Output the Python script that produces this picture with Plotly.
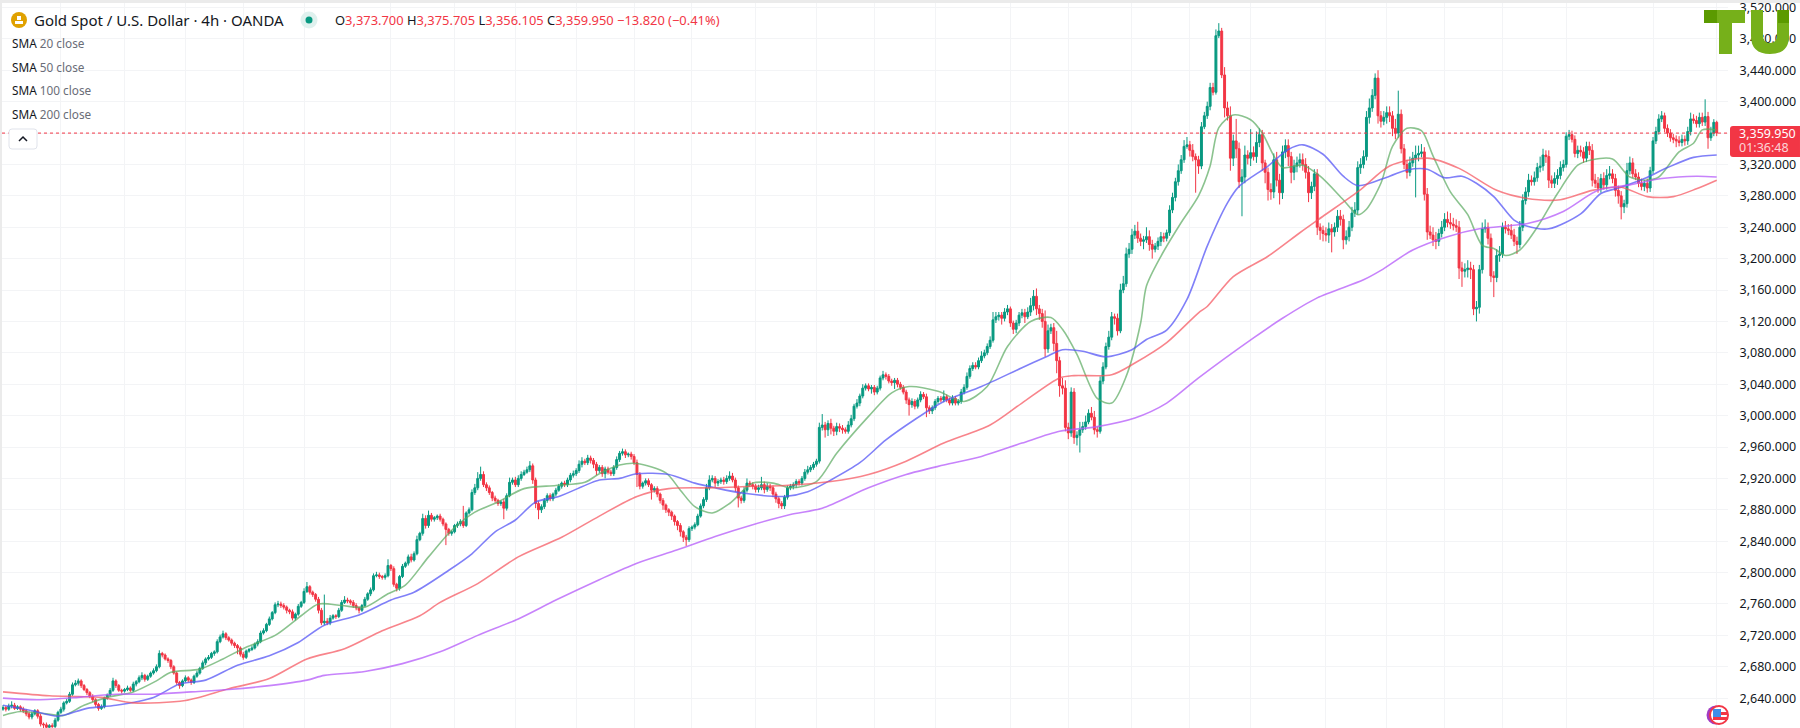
import plotly.graph_objects as go

# closes per group of bars left to right
closes = [
    2628,2626,2630,2631,2627,2629,2626,2624,2620,2616,
    2620,2624,2617,2607,2606,2603,2605,2604,2612,2622,
    2626,2634,2636,2645,2657,2659,2662,2656,2651,2647,
    2642,2638,2632,2627,2629,2640,2644,2650,2662,2656,
    2650,2649,2651,2653,2650,2658,2661,2666,2669,2664,
    2668,2672,2675,2680,2697,2695,2690,2688,2680,2672,
    2660,2656,2662,2666,2663,2660,2668,2672,2678,2685,
    2690,2692,2697,2699,2712,2718,2722,2717,2714,2710,
    2707,2704,2696,2692,2700,2702,2704,2709,2712,2723,
    2726,2734,2741,2749,2759,2760,2758,2756,2752,2750,
    2742,2747,2757,2762,2776,2782,2775,2772,2766,2752,
    2736,2738,2736,2742,2745,2744,2752,2762,2765,2764,
    2762,2758,2755,2752,2758,2766,2773,2778,2796,2797,
    2795,2794,2796,2809,2805,2785,2780,2795,2808,2812,
    2820,2816,2824,2842,2850,2869,2860,2873,2868,2870,
    2872,2868,2862,2855,2850,2852,2860,2862,2865,2860,
    2876,2880,2902,2908,2920,2925,2912,2908,2902,2895,
    2892,2888,2890,2882,2898,2915,2918,2912,2920,2925,
    2928,2931,2936,2918,2888,2880,2884,2892,2898,2894,
    2900,2905,2910,2914,2912,2918,2924,2926,2930,2938,
    2942,2940,2946,2943,2938,2930,2934,2926,2932,2928,
    2926,2934,2944,2952,2954,2950,2951,2948,2940,2925,
    2910,2914,2917,2912,2905,2907,2900,2892,2886,2880,
    2877,2872,2865,2860,2852,2845,2842,2856,2858,2861,
    2872,2885,2893,2908,2918,2920,2914,2916,2918,2916,
    2920,2923,2918,2908,2895,2892,2905,2914,2912,2910,
    2906,2908,2912,2906,2910,2908,2900,2894,2888,2885,
    2896,2908,2910,2912,2916,2914,2920,2928,2931,2934,
    2938,2942,2985,2988,2982,2990,2984,2980,2986,2984,
    2982,2980,2988,2996,3012,3016,3025,3035,3038,3034,
    3036,3030,3035,3048,3052,3050,3044,3042,3045,3040,
    3036,3030,3020,3014,3018,3012,3020,3027,3024,3010,
    3006,3010,3018,3022,3020,3024,3020,3016,3022,3016,
    3018,3030,3036,3050,3060,3064,3062,3070,3076,3080,
    3088,3096,3122,3126,3128,3124,3132,3136,3118,3110,
    3118,3128,3131,3126,3132,3140,3152,3136,3130,3120,
    3085,3108,3112,3092,3070,3038,3035,2985,2978,3030,
    2972,2975,2982,2986,2992,3003,2998,2982,2980,3044,
    3062,3088,3100,3126,3124,3108,3160,3168,3206,3212,
    3230,3235,3226,3222,3224,3228,3218,3212,3216,3222,
    3228,3226,3233,3262,3278,3298,3312,3326,3343,3345,
    3338,3330,3326,3318,3368,3382,3394,3418,3412,3484,
    3490,3434,3392,3382,3328,3350,3340,3298,3304,3332,
    3328,3335,3330,3348,3358,3322,3310,3288,3285,3326,
    3300,3284,3336,3344,3330,3310,3318,3322,3326,3320,
    3310,3284,3292,3308,3240,3236,3232,3230,3238,3234,
    3240,3254,3250,3224,3228,3240,3258,3262,3316,3320,
    3330,3380,3392,3408,3430,3382,3375,3380,3386,3382,
    3366,3360,3384,3340,3320,3310,3322,3328,3332,3334,
    3336,3282,3234,3230,3224,3222,3232,3240,3250,3246,
    3244,3242,3240,3188,3184,3186,3188,3186,3136,3138,
    3186,3238,3240,3226,3178,3176,3204,3206,3240,3238,
    3236,3230,3222,3218,3240,3274,3285,3300,3298,3303,
    3316,3318,3332,3330,3300,3296,3302,3306,3316,3320,
    3356,3358,3352,3334,3338,3336,3328,3343,3338,3300,
    3296,3290,3302,3294,3306,3308,3302,3287,3280,3266,
    3270,3312,3322,3308,3304,3296,3292,3296,3290,3312,
    3350,3362,3378,3382,3366,3360,3354,3352,3350,3348,
    3352,3350,3362,3378,3376,3372,3380,3374,3381,3354,
    3360,3373.7,3359.95,
]
upper_wick = [
    3,2,3,5,3,2,2,3,2,3, 3,2,2,3,2,3,2,3,3,2, 3,2,3,3,3,4,3,2,2,2, 2,3,2,2,3,2,2,3,4,2,
    2,2,2,3,2,3,2,3,4,2, 2,2,3,3,4,2,2,2,2,2, 2,2,2,3,2,2,2,3,2,3, 2,3,2,2,3,3,4,2,2,2,
    2,2,2,3,2,2,3,2,3,3, 3,2,3,2,3,4,3,3,2,2, 3,2,3,2,4,6,2,2,2,3, 3,34,4,4,2,2,3,3,5,3,
    2,3,3,2,2,3,2,3,3,4, 3,2,3,8,2,3,2,2,3,2, 3,4,3,5,2,6,4,6,3,2, 2,3,2,2,2,2,2,3,3,20,
    2,3,4,5,8,10,4,3,3,2, 3,2,2,4,3,6,3,4,4,4, 3,4,6,3,3,3,3,3,3,3, 2,3,3,2,3,3,3,4,3,5,
    5,3,4,3,3,3,3,3,3,3, 3,3,4,3,4,3,2,3,3,4, 3,2,3,3,2,3,3,2,3,2, 2,2,2,2,3,2,3,3,2,3,
    3,3,3,5,6,4,3,3,3,4, 4,6,4,3,3,3,4,6,3,3, 3,4,10,4,4,3,3,3,3,3, 3,3,3,3,3,3,3,4,5,3,
    3,3,6,14,4,4,6,3,5,4, 4,3,5,5,3,5,3,5,3,3, 3,3,3,3,5,3,3,3,3,3, 3,3,3,3,4,3,3,4,3,4,
    3,3,3,3,3,8,3,3,4,3, 3,4,4,5,4,4,4,4,6,4, 4,5,10,6,4,4,5,5,3,3, 4,4,5,5,6,10,8,10,5,6,
    14,8,5,6,16,5,10,10,6,6, 5,5,10,6,8,5,8,8,4,6, 6,5,8,6,4,6,8,10,8,8, 8,8,12,6,5,12,8,6,4,5,
    6,5,4,6,6,5,8,6,8,10, 5,8,4,5,6,5,6,6,6,8, 10,4,10,8,12,8,28,8,10,12, 6,30,8,14,8,6,4,6,8,8,
    10,8,8,8,8,6,8,8,8,8, 8,8,6,6,6,5,6,8,8,6, 6,8,8,6,8,8,8,10,8,8, 8,8,12,8,6,10,6,8,8,8,
    6,12,30,6,6,6,8,8,12,10, 10,6,8,8,10,10,6,8,8,10, 12,8,8,8,8,8,10,8,6,8, 6,8,10,6,6,6,8,10,6,8,
    6,8,8,6,8,8,6,8,6,8, 6,12,8,6,8,6,8,8,8,6, 5,6,5,5,6,6,6,6,6,8, 8,8,6,8,8,10,6,6,6,6,
    5,10,8,6,6,6,6,4,6,5, 5,6,6,6,4,5,5,5,5,6, 6,5,6,8,6,6,6,6,22,6, 8,4,2.005,
]
lower_wick = [
    2,3,2,3,2,2,3,3,3,3, 3,2,3,3,4,3,2,3,3,2, 2,3,2,2,2,2,3,3,2,3, 2,3,3,3,2,2,2,2,2,3,
    2,3,2,2,2,2,3,2,3,3, 2,2,2,2,2,3,2,3,3,2, 3,4,2,2,3,3,2,2,2,2, 3,2,2,3,2,2,2,3,2,3,
    3,8,3,3,2,2,2,2,3,2, 2,2,2,2,2,3,3,3,4,3, 3,3,2,2,2,2,3,3,3,4, 3,3,3,3,2,3,2,2,2,3,
    3,3,3,4,2,2,2,3,2,2, 3,3,3,2,3,3,4,3,2,2, 3,3,2,2,2,3,4,3,3,3, 3,3,3,20,3,3,2,3,3,3,
    2,2,2,3,3,3,3,4,3,4, 3,3,3,14,3,2,3,3,3,3, 2,2,3,5,6,12,4,3,3,3, 3,3,2,3,3,3,3,3,3,3,
    4,3,3,4,5,6,3,4,6,3, 3,3,3,3,3,4,3,4,3,16, 4,3,3,3,12,3,4,4,6,4, 5,5,5,6,6,6,8,3,3,3,
    2,2,3,3,3,3,5,4,3,4, 3,3,3,5,12,4,3,3,3,4, 4,4,3,5,3,4,4,5,6,4, 4,3,3,4,4,3,3,3,3,3,
    3,3,3,4,10,8,8,6,5,5, 5,3,3,3,3,3,4,3,3,3, 6,4,3,3,3,4,3,4,8,4, 3,3,5,14,4,4,3,3,3,12,
    4,4,3,3,3,3,3,3,3,3, 3,3,3,3,3,3,3,3,3,3, 3,3,3,4,5,8,4,4,5,6, 5,4,4,8,3,5,6,8,8,8,
    10,5,4,10,16,14,8,5,8,5, 8,10,22,4,4,3,4,6,8,3, 4,3,4,4,8,6,3,4,4,5, 6,5,6,6,10,4,8,12,4,5,
    6,5,4,4,4,5,5,4,4,3, 8,6,42,10,4,3,4,5,4,3, 3,4,12,6,16,10,12,8,44,8, 8,10,5,8,6,10,14,14,10,8,
    8,15,8,8,12,14,10,8,6,8, 8,12,8,6,10,12,10,8,10,26, 6,6,8,12,6,6,5,5,6,8, 5,5,8,5,5,10,8,5,8,8,
    10,8,6,6,6,8,5,5,50,8, 5,8,10,5,8,10,6,5,5,6, 6,6,6,14,20,8,10,12,8,16, 8,5,5,8,8,25,6,8,5,6,
    6,5,6,12,5,5,5,6,5,5, 5,6,6,8,10,6,6,8,5,5, 4,5,4,5,6,6,6,5,6,8, 6,6,6,6,6,5,6,8,10,16,
    8,5,5,5,4,5,5,6,6,5, 4,4,4,4,5,5,5,5,8,5, 5,6,5,5,4,5,5,5,5,14, 4,4,3.845,
]

# moving averages, read at these bars
sma20_bars = [0,6,15,21,28,36,45,53,58,68,76,84,94,103,109,117,125,133,139,147,155,163,171,180,191,201,206,213,219,229,234,239,245,251,259,266,272,281,288,299,307,313,323,332,340,347,355,362,366,371,378,383,388,393,395,400,407,413,417,420,425,431,435,439,442,449,455,463,468,471,476,480,485,490,494,500,506,511,515,519,524,530,537,544,549,556,562,568,572,579,584,587,592]
sma20 = [2618,2623,2620,2618,2631,2641,2648,2662,2673,2677,2690,2705,2720,2745,2760,2758,2756,2773,2784,2820,2854,2877,2890,2907,2911,2915,2926,2937,2939,2927,2905,2884,2876,2888,2914,2914,2908,2916,2952,2999,3029,3037,3031,3018,3037,3088,3120,3125,3110,3078,3022,3016,3050,3118,3165,3203,3246,3280,3318,3367,3383,3377,3360,3331,3316,3319,3305,3275,3256,3263,3296,3343,3366,3363,3331,3285,3256,3217,3213,3204,3211,3240,3283,3319,3326,3327,3304,3300,3304,3336,3347,3364,3364]
sma50_bars = [0,10,19,29,39,52,61,70,81,92,102,111,123,134,142,154,162,170,177,184,192,206,213,219,230,239,246,256,270,278,286,296,305,315,325,338,352,361,366,373,381,390,395,402,409,416,423,427,437,444,449,456,463,468,479,485,492,498,504,509,515,522,526,534,545,552,559,567,575,584,592]
sma50 = [2631,2624,2617,2627,2631,2641,2658,2663,2682,2694,2711,2733,2746,2765,2775,2803,2824,2852,2867,2890,2897,2918,2920,2926,2925,2914,2908,2901,2897,2903,2918,2940,2969,2995,3018,3037,3061,3076,3084,3082,3075,3084,3097,3109,3148,3216,3271,3292,3318,3339,3345,3333,3305,3293,3305,3313,3314,3303,3305,3296,3279,3249,3242,3238,3257,3283,3291,3302,3316,3329,3332]
sma100_bars = [0,16,26,34,45,63,78,92,105,118,131,144,151,164,178,193,206,219,230,246,259,270,286,299,312,325,341,352,365,370,383,391,402,413,416,425,437,448,456,469,479,492,503,516,526,538,549,559,568,577,585,592]
sma100 = [2648,2643,2642,2641,2634,2637,2652,2665,2690,2703,2726,2745,2762,2786,2820,2845,2872,2897,2907,2908,2910,2911,2916,2925,2942,2965,2988,3016,3048,3051,3052,3067,3093,3131,3139,3177,3203,3233,3254,3288,3318,3328,3315,3287,3277,3275,3287,3291,3279,3279,3289,3300]
sma200_bars = [0,12,26,39,52,65,78,92,105,111,125,138,151,164,178,191,206,219,233,246,259,272,283,299,312,325,338,352,365,378,391,402,413,432,442,454,470,476,487,499,510,527,539,551,562,573,585,592]
sma200 = [2640,2638,2641,2645,2645,2648,2651,2656,2663,2669,2674,2684,2699,2720,2741,2765,2791,2812,2829,2846,2861,2874,2882,2908,2925,2937,2948,2965,2980,2986,2997,3016,3048,3099,3124,3150,3173,3185,3211,3228,3238,3245,3260,3287,3294,3302,3305,3304]

price_ticks = list(range(2640, 3521, 40))
grid_bars = [20,42,63,83,104,134,156,177,198,218,238,260,281,301,322,348,368,390,410,431,457,478,498,518,540,570,592]
last_price = 3359.95

GREEN = "#089981"
RED = "#F23645"
FONT = "Noto Sans"

assert len(closes) == len(upper_wick) == len(lower_wick)
bars = list(range(len(closes)))
opens = [2626] + closes[:-1]
highs = [max(o, c) + u for o, c, u in zip(opens, closes, upper_wick)]
lows = [min(o, c) - d for o, c, d in zip(opens, closes, lower_wick)]

# page pixels to paper coordinates (plot area is x 2-1728, y 3-728)
def px(x):
    return (x - 2) / 1726
def py(y):
    return 1 - (y - 3) / 725
def path(*parts):
    out = []
    for p in parts:
        if isinstance(p, str):
            out.append(p)
        else:
            out.append(f"{px(p[0]):.5f},{py(p[1]):.5f}")
    return " ".join(out)

fig = go.Figure()
fig.add_trace(go.Candlestick(
    x=bars, open=opens, high=highs, low=lows, close=closes,
    increasing=dict(line=dict(color=GREEN, width=1), fillcolor=GREEN),
    decreasing=dict(line=dict(color=RED, width=1), fillcolor=RED),
    whiskerwidth=0, showlegend=False,
))
for xs, ys, color in [
    (sma20_bars, sma20, "rgba(90,170,95,0.7)"),
    (sma50_bars, sma50, "rgba(85,85,245,0.75)"),
    (sma100_bars, sma100, "rgba(245,80,90,0.7)"),
    (sma200_bars, sma200, "rgba(180,90,250,0.75)"),
]:
    fig.add_trace(go.Scatter(x=xs, y=ys, mode="lines", showlegend=False,
                             line=dict(color=color, width=1.6, shape="spline", smoothing=0.8)))

def box(x0, y0, x1, y1, color, line=None):
    return dict(type="rect", xref="paper", yref="paper", x0=px(x0), x1=px(x1), y0=py(y0), y1=py(y1),
                fillcolor=color, line=dict(width=0 if line is None else 1, color=line or color), layer="above")
def disc(cx, cy, r, color, line=None):
    return dict(type="circle", xref="paper", yref="paper", x0=px(cx - r), x1=px(cx + r), y0=py(cy + r), y1=py(cy - r),
                fillcolor=color, line=dict(width=0 if line is None else 2, color=line or color), layer="above")
def outline(d, color, line=None, width=0):
    return dict(type="path", xref="paper", yref="paper", path=d, fillcolor=color,
                line=dict(width=width, color=line or color), layer="above")

shapes = [
    box(0, 0, 1800, 3, "#ebebeb"),
    box(0, 0, 2, 728, "#ebebeb"),
    # last price line and tag
    dict(type="line", xref="paper", yref="y", x0=0, x1=1, y0=last_price, y1=last_price,
         line=dict(color=RED, width=1, dash="dot"), layer="above"),
    outline(path("M", (1733, 126), "L", (1800, 126), "L", (1800, 157), "L", (1733, 157),
                 "Q", (1730, 157), (1730, 154), "L", (1730, 129), "Q", (1730, 126), (1733, 126), "Z"), RED),
    # header icons
    disc(19, 20, 8, "#E0A100"),
    box(15, 21, 23, 24, "#ffffff"),
    box(17, 16, 21, 20, "#ffffff"),
    disc(309, 20, 8.5, "#dff1ee"),
    disc(309, 20, 3.5, GREEN),
    # collapse button
    outline(path("M", (12, 129), "L", (34, 129), "Q", (37, 129), (37, 132), "L", (37, 146), "Q", (37, 149), (34, 149),
                 "L", (12, 149), "Q", (9, 149), (9, 146), "L", (9, 132), "Q", (9, 129), (12, 129), "Z"),
            "#ffffff", "#e0e3eb", 1),
    outline(path("M", (19, 141), "L", (23, 137), "L", (27, 141)), "rgba(0,0,0,0)", "#131722", 1.5),
    # watermark logo
    box(1704, 10, 1745, 23, "#76b01a"),
    box(1704, 10, 1717, 23, "#5b9a00"),
    box(1719, 10, 1732, 54, "#76b01a"),
    outline(path("M", (1751, 10), "L", (1763, 10), "L", (1763, 36), "Q", (1763, 43), (1770, 43), "Q", (1777, 43), (1777, 36),
                 "L", (1777, 10), "L", (1789, 10), "L", (1789, 36), "Q", (1789, 54), (1770, 54), "Q", (1751, 54), (1751, 36), "Z"),
            "#76b01a"),
    box(1778, 10, 1789, 23, "#5b9a00"),
    # currency flag
    disc(1716, 715, 9.5, "#a23bc4"),
    disc(1719, 715, 9, "#ffffff", RED),
    box(1713, 709, 1721, 717, "#3f8ee8"),
    box(1721, 712, 1728, 715, RED),
    box(1713, 717, 1728, 720, RED),
]

def label(x, y, text, size=12, color="#131722"):
    return dict(xref="paper", yref="paper", x=px(x), y=py(y), text=text, showarrow=False,
                xanchor="left", yanchor="middle", font=dict(family=FONT, size=size, color=color))

def sp(text, color):
    return f'<span style="color:{color}">{text}</span>'

ohlc = ("O" + sp("3,373.700", RED) + " H" + sp("3,375.705", RED) + " L" + sp("3,356.105", RED)
        + " C" + sp("3,359.950", RED) + " " + sp("−13.820 (−0.41%)", RED))
annotations = [
    label(32, 20, "Gold Spot / U.S. Dollar · 4h · OANDA", 15),
    label(333, 20, ohlc, 12.9),
    label(1737, 133, "3,359.950", 12.5, "#ffffff"),
    label(1737, 148, "01:36:48", 12.5, "rgba(255,255,255,0.8)"),
]
for y, n in [(43, 20), (67, 50), (90, 100), (114, 200)]:
    annotations.append(label(10, y, "SMA " + sp(f"{n} close", "#6a6d78"), 11.8))

fig.update_layout(
    width=1800, height=728,
    margin=dict(l=2, r=72, t=3, b=0),
    paper_bgcolor="#ffffff", plot_bgcolor="#ffffff",
    boxgap=0.05,
    xaxis=dict(range=[-0.345, 595.9], tickvals=grid_bars, showticklabels=False, showgrid=True,
               gridcolor="#f3f4f6", gridwidth=1, zeroline=False, rangeslider=dict(visible=False), ticks=""),
    yaxis=dict(range=[2602, 3525.7], side="right", tickvals=price_ticks, tickformat=",.3f",
               ticklabeloverflow="allow",
               showgrid=True, gridcolor="#f3f4f6", gridwidth=1, zeroline=False, ticks="outside", ticklen=8,
               tickcolor="rgba(0,0,0,0)", tickfont=dict(family=FONT, size=12.5, color="#131722")),
    shapes=shapes, annotations=annotations,
)

fig.write_html("out.html", config={"displayModeBar": False}, post_script="document.body.style.margin='0';")
